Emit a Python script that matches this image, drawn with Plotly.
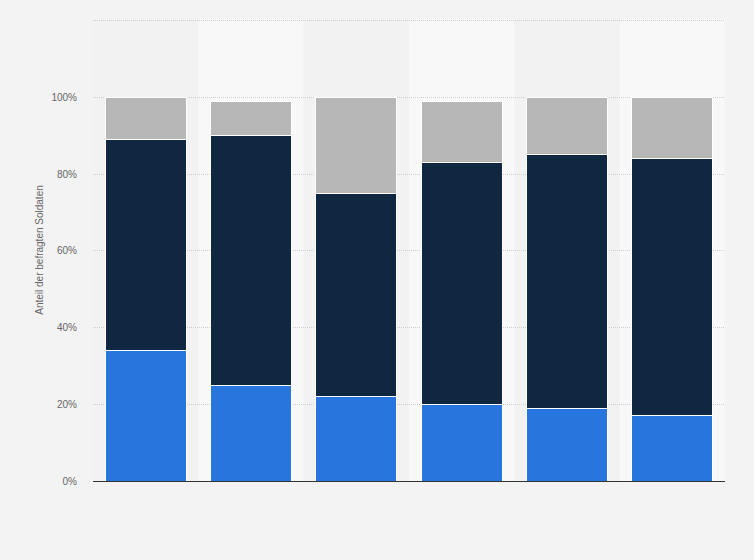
import plotly.graph_objects as go

# categories (no labels are shown on the x axis in the reference)
categories = ["A", "B", "C", "D", "E", "F"]
# shares in percent, bottom to top
blue_vals = [34, 25, 22, 20, 19, 17]
dark_vals = [55, 65, 53, 63, 66, 67]
gray_vals = [11, 9, 25, 16, 15, 16]
y_ticks = [0, 20, 40, 60, 80, 100, 120]
y_tick_text = ["0%", "20%", "40%", "60%", "80%", "100%", ""]

fig = go.Figure()
for vals, color in [(blue_vals, "#2876dd"), (dark_vals, "#0f2740"), (gray_vals, "#b7b7b7")]:
    fig.add_trace(go.Bar(
        x=categories, y=vals, marker_color=color,
        marker_line_color="#ffffff", marker_line_width=1,
        hoverinfo="skip",
    ))

# alternating column bands behind the bars
shapes = []
for i in range(len(categories)):
    shapes.append(dict(
        type="rect", xref="x", yref="paper", layer="below",
        x0=i - 0.5, x1=i + 0.5, y0=0, y1=1,
        fillcolor="#f2f2f2" if i % 2 == 0 else "#f8f8f8",
        line_width=0,
    ))

fig.update_layout(
    barmode="stack",
    bargap=0.23,
    width=754, height=560,
    margin=dict(l=93, r=29, t=19, b=79),
    paper_bgcolor="#f3f3f3",
    plot_bgcolor="#f3f3f3",
    showlegend=False,
    shapes=shapes,
    font=dict(family="Liberation Sans, Arial, sans-serif", size=10, color="#666666"),
)
fig.update_xaxes(
    showticklabels=False, showgrid=False,
    showline=True, linecolor="#333333", linewidth=1,
    ticks="", range=[-0.5, 5.5],
)
fig.update_yaxes(
    range=[0, 120.4], tickvals=y_ticks, ticktext=y_tick_text,
    showgrid=True, gridcolor="#cdcdcd", griddash="1px,1px", gridwidth=1,
    zeroline=False, ticks="", ticklabelstandoff=15,
    title=dict(text="Anteil der befragten Soldaten", font=dict(size=10, color="#666666"), standoff=5),
)

fig.write_html("out.html", config={"displayModeBar": False},
               post_script="document.body.style.margin='0';")
